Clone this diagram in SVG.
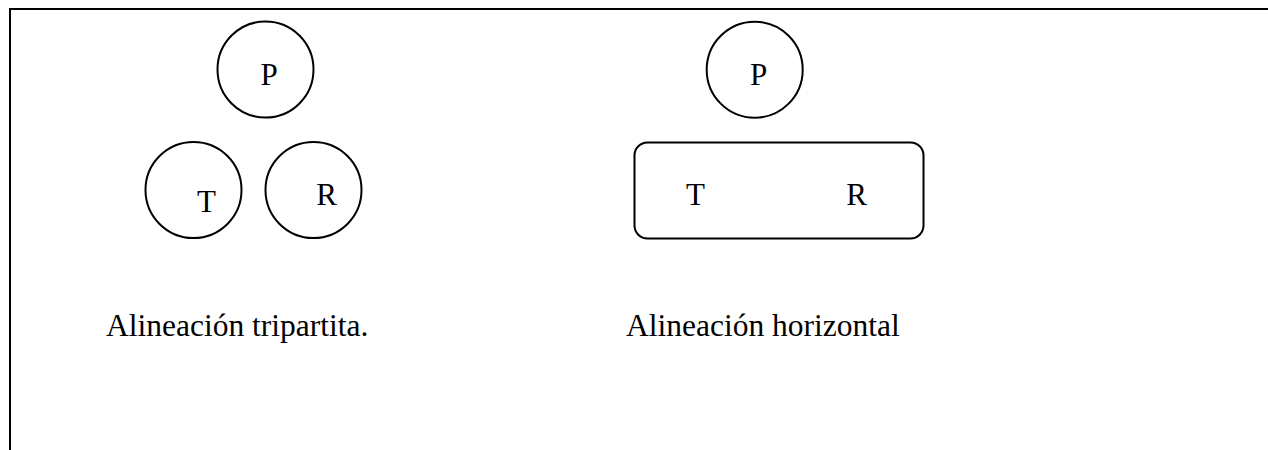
<svg xmlns="http://www.w3.org/2000/svg" width="1268" height="450" viewBox="0 0 1268 450">
  <style>
    .frame { fill: none; stroke: #000; stroke-width: 2; }
    .shape { fill: #fff; stroke: #000; stroke-width: 2; }
    .lbl { font-family: "Liberation Serif", "Times New Roman", serif; font-size: 31px; fill: #000; }
    .cap { font-family: "Liberation Serif", "Times New Roman", serif; font-size: 31.5px; fill: #000; }
  </style>
  <rect width="1268" height="450" fill="#fff"/>
  <!-- outer frame: top and left edges -->
  <path class="frame" d="M10 450 V9 H1268"/>

  <!-- tripartite alignment -->
  <g id="tri-P">
    <circle class="shape" cx="265.5" cy="69.5" r="48"/>
    <text class="lbl" x="269" y="85" text-anchor="middle">P</text>
  </g>
  <g id="tri-T">
    <circle class="shape" cx="193.5" cy="190" r="48"/>
    <text class="lbl" x="206.5" y="211.5" text-anchor="middle">T</text>
  </g>
  <g id="tri-R">
    <circle class="shape" cx="313.5" cy="190" r="48"/>
    <text class="lbl" x="326.5" y="205" text-anchor="middle">R</text>
  </g>
  <g id="tri-caption">
    <text class="cap" x="106" y="336">Alineación tripartita.</text>
  </g>

  <!-- horizontal alignment -->
  <g id="hor-P">
    <circle class="shape" cx="754.7" cy="69.7" r="48"/>
    <text class="lbl" x="758.5" y="85" text-anchor="middle">P</text>
  </g>
  <g id="hor-TR">
    <rect class="shape" x="634.5" y="142.5" width="289" height="96" rx="13" ry="13"/>
    <text class="lbl" x="695.5" y="205" text-anchor="middle">T</text>
    <text class="lbl" x="856.5" y="205" text-anchor="middle">R</text>
  </g>
  <g id="hor-caption">
    <text class="cap" x="626" y="336">Alineación horizontal</text>
  </g>

  <g id="connectors"/>
</svg>
